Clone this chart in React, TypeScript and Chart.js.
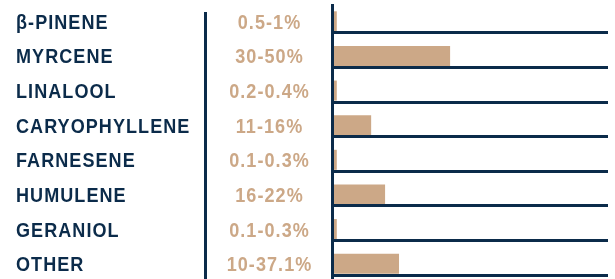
import React, { useEffect, useRef } from "react";
import { Chart, registerables } from "chart.js";

Chart.register(...registerables);

const terpenes = ["β-PINENE", "MYRCENE", "LINALOOL", "CARYOPHYLLENE", "FARNESENE", "HUMULENE", "GERANIOL", "OTHER"];
const ranges = ["0.5-1%", "30-50%", "0.2-0.4%", "11-16%", "0.1-0.3%", "16-22%", "0.1-0.3%", "10-37.1%"];
const barValues = [1.2, 50, 1.2, 16, 1.2, 22, 1.2, 28];

const NAVY = "#0b2b4a";
const TAN = "#cca887";
const SX = 0.88;

function drawText(ctx: any, text: string, x: number, y: number, align: string, color: string) {
  ctx.save();
  ctx.translate(x, y);
  ctx.scale(SX, 1);
  ctx.font = "bold 20.5px 'Liberation Sans', Arial, sans-serif";
  (ctx as any).letterSpacing = "1.2px";
  ctx.textBaseline = "alphabetic";
  ctx.textAlign = align;
  ctx.fillStyle = color;
  ctx.fillText(text, 0, 0);
  ctx.restore();
}

const tablePlugin = {
  id: "tablePlugin",
  afterDatasetsDraw(chart: any) {
    const ctx = chart.ctx;
    const yScale = chart.scales.y;
    const meta = chart.getDatasetMeta(0);
    const h = chart.height;
    ctx.save();
    ctx.fillStyle = NAVY;
    ctx.fillRect(204, 12, 3, h - 12);
    ctx.fillRect(331, 4, 3, h - 4);
    terpenes.forEach((name, i) => {
      const y = yScale.getPixelForValue(i);
      const half = meta.data[i] ? meta.data[i].height / 2 : 10;
      ctx.fillStyle = NAVY;
      ctx.fillRect(331, Math.round(y + half), chart.chartArea.right - 331, 3);
      drawText(ctx, name, 16, y + 7.5, "left", NAVY);
      drawText(ctx, ranges[i], 269.5, y + 7.5, "center", TAN);
    });
    ctx.restore();
  },
};

export default function App() {
  const ref = useRef<HTMLCanvasElement>(null);
  useEffect(() => {
    if (!ref.current) return;
    const chart = new Chart(ref.current, {
      type: "bar",
      data: {
        labels: terpenes,
        datasets: [
          {
            data: barValues,
            backgroundColor: TAN,
            borderWidth: 0,
            barPercentage: 0.578,
            categoryPercentage: 1,
          },
        ],
      },
      options: {
        indexAxis: "y",
        animation: false,
        responsive: false,
        maintainAspectRatio: false,
        devicePixelRatio: 1,
        layout: { padding: { left: 334, right: 7, top: 4, bottom: 0 } },
        plugins: { legend: { display: false }, tooltip: { enabled: false } },
        scales: {
          x: { display: false, min: 0, max: 118 },
          y: { display: false, offset: true },
        },
      },
      plugins: [tablePlugin],
    });
    return () => chart.destroy();
  }, []);
  return (
    <div style={{ position: "absolute", left: 0, top: 0, width: 615, height: 279, overflow: "hidden", background: "#fff" }}>
      <canvas ref={ref} width={615} height={281} style={{ width: 615, height: 281, display: "block" }} />
    </div>
  );
}
